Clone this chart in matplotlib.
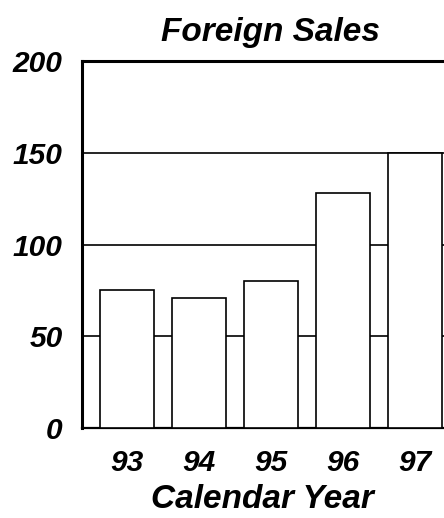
import matplotlib
matplotlib.use("Agg")
import matplotlib.pyplot as plt

years = ["93", "94", "95", "96", "97"]
sales = [75, 71, 80, 128, 150]
y_ticks = [0, 50, 100, 150, 200]

plt.rcParams['font.family'] = ['Liberation Sans', 'DejaVu Sans']

fig = plt.figure(figsize=(4.44, 5.18), dpi=100)
# axes runs slightly past the right edge, like the cropped original
ax = fig.add_axes([82 / 444, 90 / 518, 370 / 444, 367 / 518])

x = range(len(years))
ax.bar(x, sales, width=0.75, color='white', edgecolor='black', linewidth=1.2, zorder=3)

ax.set_ylim(0, 200)
ax.set_xlim(-0.625, -0.625 + 370 / 72)
ax.set_yticks(y_ticks)
ax.set_yticklabels([str(v) for v in y_ticks])
ax.set_xticks(list(x))
ax.set_xticklabels(years)

ax.yaxis.grid(True, color='black', linewidth=1.2, zorder=0)
ax.set_axisbelow(True)

for lbl in ax.get_xticklabels() + ax.get_yticklabels():
    lbl.set_fontsize(21.5)
    lbl.set_fontweight('bold')
    lbl.set_fontstyle('italic')
ax.tick_params(axis='both', length=0)
ax.tick_params(axis='y', pad=14)
ax.tick_params(axis='x', pad=15)

ax.spines['left'].set_linewidth(2.2)
ax.spines['top'].set_linewidth(2.2)
ax.spines['bottom'].set_linewidth(1.6)
ax.spines['right'].set_visible(False)

fig.text(270 / 444, 1 - 32 / 518, 'Foreign Sales', ha='center', va='center',
         fontsize=24, fontweight='bold', fontstyle='italic')
fig.text(262 / 444, 1 - 500 / 518, 'Calendar Year', ha='center', va='center',
         fontsize=24, fontweight='bold', fontstyle='italic')

fig.savefig('out.png', dpi=100)
